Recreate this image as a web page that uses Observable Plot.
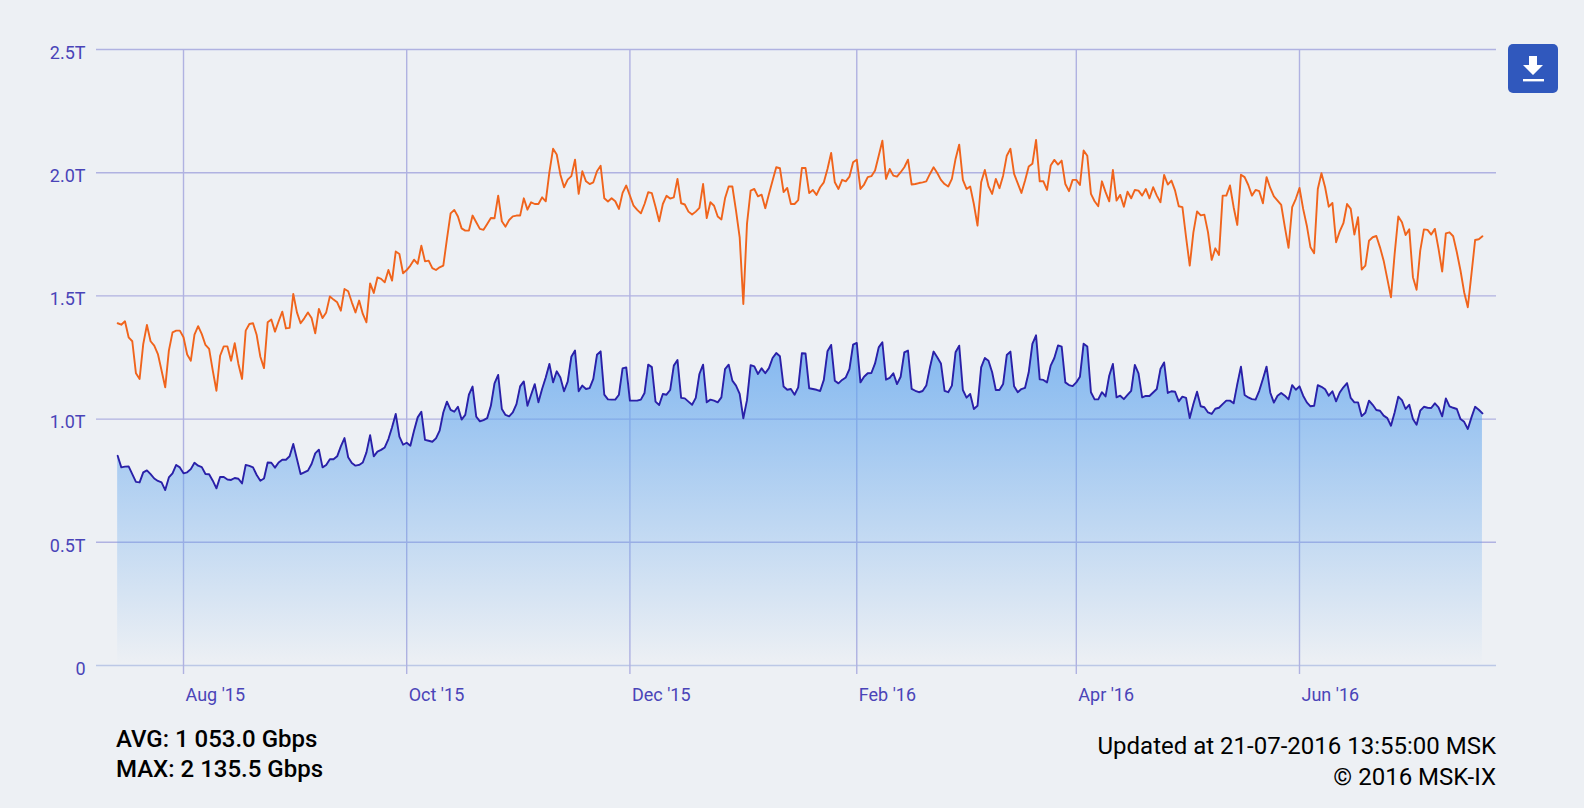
<!DOCTYPE html>
<html>
<head>
<meta charset="utf-8">
<script src="https://cdn.jsdelivr.net/npm/d3@7"></script>
<script src="https://cdn.jsdelivr.net/npm/@observablehq/plot@0.6"></script>
<style>
html,body{margin:0;padding:0;background:#edf0f4;width:1584px;height:808px;overflow:hidden;font-family:Roboto,sans-serif}
#chart{position:absolute;left:0;top:0}
.foot{position:absolute;white-space:pre;color:#000}
#stats{left:116px;top:724px;font-size:24px;font-weight:500;line-height:30px}
#upd{right:88px;top:731px;font-size:24px;line-height:30.5px;text-align:right}
#btn{position:absolute;left:1508px;top:44px;width:50px;height:49px;background:#3058bd;border-radius:5px}
</style>
</head>
<body>
<div id="chart"></div>
<div id="stats" class="foot">AVG: 1 053.0 Gbps
MAX: 2 135.5 Gbps</div>
<div id="upd" class="foot">Updated at 21-07-2016 13:55:00 MSK
© 2016 MSK-IX</div>
<div id="btn"><svg width="50" height="49" viewBox="0 0 50 49"><path d="M21 12h8v9h6L25 31 15 21h6z" fill="#fff"/><rect x="15" y="35" width="21" height="2.4" fill="#fff"/></svg></div>
<script>
const startDay = "2015-07-14";
const maxSeries = [
1.389,1.383,1.397,1.332,1.316,1.186,1.163,1.305,1.382,1.316,1.298,1.264,1.197,1.129,1.278,1.352,1.359,1.359,1.332,1.262,
1.237,1.343,1.377,1.345,1.301,1.285,1.197,1.115,1.257,1.295,1.295,1.237,1.308,1.224,1.163,1.359,1.386,1.389,1.341,1.253,
1.207,1.393,1.404,1.355,1.397,1.436,1.368,1.370,1.508,1.433,1.389,1.409,1.433,1.410,1.348,1.447,1.410,1.433,1.498,1.485,
1.474,1.440,1.528,1.519,1.474,1.433,1.481,1.427,1.393,1.551,1.512,1.575,1.569,1.555,1.605,1.562,1.680,1.670,
1.592,1.605,1.623,1.647,1.630,1.704,1.640,1.643,1.613,1.605,1.616,1.623,1.731,1.835,1.849,1.822,1.774,1.765,1.765,1.826,
1.799,1.772,1.768,1.792,1.816,1.815,1.907,1.803,1.781,1.808,1.823,1.826,1.826,1.896,1.850,1.880,1.873,1.873,1.900,1.884,
2.002,2.097,2.074,1.992,1.941,1.972,1.986,2.053,1.914,2.006,1.965,1.954,1.961,2.006,2.028,1.896,1.883,1.896,1.884,1.853,
1.918,1.948,1.907,1.866,1.849,1.835,1.873,1.921,1.917,1.862,1.803,1.873,1.906,1.895,1.900,1.975,1.876,1.871,1.842,1.830,
1.842,1.857,1.954,1.816,1.880,1.866,1.822,1.810,1.896,1.944,1.944,1.846,1.738,1.467,1.792,
1.927,1.934,1.904,1.911,1.856,1.914,1.968,2.022,2.018,1.921,1.938,1.873,1.873,1.889,2.019,2.019,1.917,1.930,1.910,1.941,
1.961,2.015,2.080,1.961,1.934,1.971,1.965,1.984,2.042,2.053,1.934,1.952,1.982,1.986,2.009,2.069,2.130,1.975,2.015,1.988,
1.984,2.002,2.022,2.053,1.952,1.954,1.958,1.961,1.965,1.995,2.022,1.999,1.971,1.954,1.944,1.975,2.056,2.114,1.971,1.934,
1.944,1.873,1.785,1.961,2.011,1.945,1.914,1.975,1.937,1.988,2.069,2.097,1.995,1.957,1.918,1.968,2.025,2.036,2.133,1.965,
1.965,1.930,2.029,2.052,2.033,2.049,1.954,1.925,1.971,1.971,1.950,2.090,2.069,1.914,1.884,1.864,1.965,1.921,1.884,
2.011,1.887,1.910,1.862,1.923,1.896,1.930,1.927,1.907,1.934,1.896,1.941,1.907,1.880,1.991,1.952,1.968,1.927,1.864,1.860,
1.738,1.623,1.758,1.843,1.827,1.830,1.758,1.646,1.693,1.666,1.907,1.907,1.948,1.860,1.788,1.992,1.982,1.950,1.907,1.930,
1.925,1.876,1.982,1.938,1.904,1.887,1.869,1.779,1.695,1.860,1.894,1.938,1.853,1.785,1.697,1.673,1.934,1.998,1.941,1.862,
1.877,1.718,1.762,1.795,1.873,1.853,1.749,1.819,1.607,1.623,1.724,1.738,1.743,1.697,1.643,1.569,1.494,1.670,1.822,1.799,
1.747,1.770,1.576,1.525,1.684,1.770,1.768,1.749,1.772,1.691,1.599,1.754,1.758,1.742,1.677,1.603,1.515,1.454,1.589,1.727,
1.730,1.742];
const avgSeries = [
.851,.804,.807,.808,.777,.745,.743,.784,.792,.777,.759,.749,.743,.712,.763,.780,.814,.804,.780,.784,
.797,.823,.811,.805,.777,.776,.750,.719,.765,.765,.755,.753,.761,.758,.739,.814,.810,.804,.773,.750,
.759,.824,.823,.803,.824,.835,.835,.849,.899,.838,.777,.784,.791,.818,.861,.876,.804,.814,.837,.837,
.849,.889,.923,.845,.822,.811,.814,.824,.865,.935,.849,.868,.875,.885,.919,.967,1.021,.929,
.896,.904,.892,.953,1.007,1.030,.916,.912,.908,.922,.953,
1.027,1.071,1.037,1.030,1.050,.998,1.017,1.099,1.132,1.010,.991,.996,1.004,1.054,1.145,1.179,1.041,1.017,1.011,1.027,
1.061,1.133,1.153,1.054,1.099,1.142,1.068,1.122,1.169,1.224,1.149,1.194,1.169,1.113,1.152,1.253,1.278,1.113,1.136,1.122,
1.126,1.163,1.261,1.275,1.099,1.080,1.079,1.079,1.099,1.206,1.210,1.075,1.075,1.075,1.079,1.106,1.221,1.211,1.071,1.057,
1.102,1.099,1.118,1.217,1.240,1.086,1.084,1.071,1.058,1.086,1.183,1.221,1.068,1.079,1.075,1.068,1.088,1.203,1.221,1.156,
1.136,1.102,1.003,1.077,
1.219,1.214,1.183,1.206,1.186,1.207,1.248,1.268,1.255,1.132,1.119,1.122,1.099,1.129,1.267,1.266,1.125,1.122,1.119,1.114,
1.159,1.275,1.301,1.156,1.145,1.159,1.169,1.203,1.302,1.309,1.149,1.172,1.186,1.187,1.226,1.291,1.312,1.160,1.167,1.186,
1.142,1.172,1.271,1.278,1.123,1.115,1.109,1.114,1.136,1.210,1.274,1.251,1.226,1.115,1.109,1.136,1.271,1.298,1.118,1.087,
1.102,1.041,1.054,1.210,1.248,1.237,1.190,1.118,1.118,1.142,1.260,1.274,1.133,1.109,1.122,1.127,1.190,1.305,1.340,1.161,
1.159,1.149,1.217,1.248,1.299,1.294,1.149,1.138,1.134,1.149,1.172,1.306,1.295,1.109,1.080,1.080,1.109,1.092,1.176,
1.224,1.088,1.095,1.081,1.098,1.115,1.220,1.186,1.088,1.094,1.094,1.108,1.122,1.203,1.230,1.106,1.113,1.111,1.072,1.091,
1.086,1.004,1.061,1.111,1.052,1.048,1.027,1.021,1.042,1.046,1.061,1.075,1.075,1.064,1.142,1.213,1.098,1.088,1.081,1.079,
1.115,1.163,1.213,1.108,1.067,1.095,1.106,1.095,1.080,1.138,1.119,1.133,1.095,1.068,1.052,1.054,1.138,1.131,1.121,1.095,
1.113,1.072,1.108,1.129,1.146,1.086,1.068,1.068,1.012,1.026,1.075,1.058,1.037,1.034,1.014,1.004,.973,1.027,1.091,1.077,
1.041,1.058,1.000,.977,1.034,1.050,1.046,1.045,1.064,1.048,1.011,1.084,1.052,1.046,1.041,1.000,.989,.960,1.007,1.050,
1.038,1.023];
const yTicks = [0, 0.5, 1, 1.5, 2, 2.5];
const monthTicks = ["2015-08-01","2015-10-01","2015-12-01","2016-02-01","2016-04-01","2016-06-01"].map(d => new Date(d));
const monthLabels = ["Aug '15","Oct '15","Dec '15","Feb '16","Apr '16","Jun '16"];

if (maxSeries.length !== avgSeries.length) throw new Error("lengths " + maxSeries.length + " " + avgSeries.length);

const t0 = new Date(startDay);
const dates = maxSeries.map((_, i) => new Date(+t0 + i * 864e5));
const table = dates.map((date, i) => ({date, max: maxSeries[i], avg: avgSeries[i]}));

const SVGNS = "http://www.w3.org/2000/svg";
function gradientDefs() {
  const defs = document.createElementNS(SVGNS, "defs");
  const g = document.createElementNS(SVGNS, "linearGradient");
  g.setAttribute("id", "avgFill");
  g.setAttribute("x1", 0); g.setAttribute("y1", 0); g.setAttribute("x2", 0); g.setAttribute("y2", 1);
  [[0, 0.76], [1, 0]].forEach(([o, a]) => {
    const s = document.createElementNS(SVGNS, "stop");
    s.setAttribute("offset", o); s.setAttribute("stop-color", "#5ea4ee"); s.setAttribute("stop-opacity", a);
    g.appendChild(s);
  });
  defs.appendChild(g);
  return defs;
}

const gridColor = "#b0b2e1", textColor = "#4a44b8";
const chart = Plot.plot({
  width: 1584, height: 715,
  marginLeft: 96, marginRight: 88, marginTop: 49, marginBottom: 50,
  style: {background: "transparent", fontFamily: "Roboto, sans-serif"},
  x: {type: "time", domain: [new Date("2015-07-08T05:17Z"), new Date("2016-07-24T20:10Z")]},
  y: {domain: [0, 2.5]},
  marks: [
    gradientDefs,
    Plot.ruleY(yTicks.slice(1), {stroke: gridColor, strokeWidth: 1.4}),
    Plot.ruleY([0], {stroke: "#bcc8e6", strokeWidth: 1.4}),
    Plot.ruleX(monthTicks, {y1: 2.5, y2: 0, insetBottom: -9, stroke: gridColor, strokeWidth: 1.4}),
    Plot.areaY(table, {x: "date", y: "avg", fill: "url(#avgFill)"}),
    Plot.line(table, {x: "date", y: "max", stroke: "#f0641c", strokeWidth: 1.9, curve: "linear"}),
    Plot.line(table, {x: "date", y: "avg", stroke: "#2a20a8", strokeWidth: 1.9, curve: "linear"}),
    Plot.axisY({ticks: yTicks, tickSize: 0, tickPadding: 11, dy: 3.5, fontSize: 18, fill: textColor, label: null,
      tickFormat: d => d === 0 ? "0" : d.toFixed(1) + "T"}),
    Plot.axisX({ticks: monthTicks, tickSize: 0, tickPadding: 23, textAnchor: "start", dx: 2, fontSize: 18, fill: textColor, label: null,
      tickFormat: d => monthLabels[monthTicks.findIndex(m => +m === +d)]})
  ]
});
document.getElementById("chart").appendChild(chart);
</script>
</body>
</html>
